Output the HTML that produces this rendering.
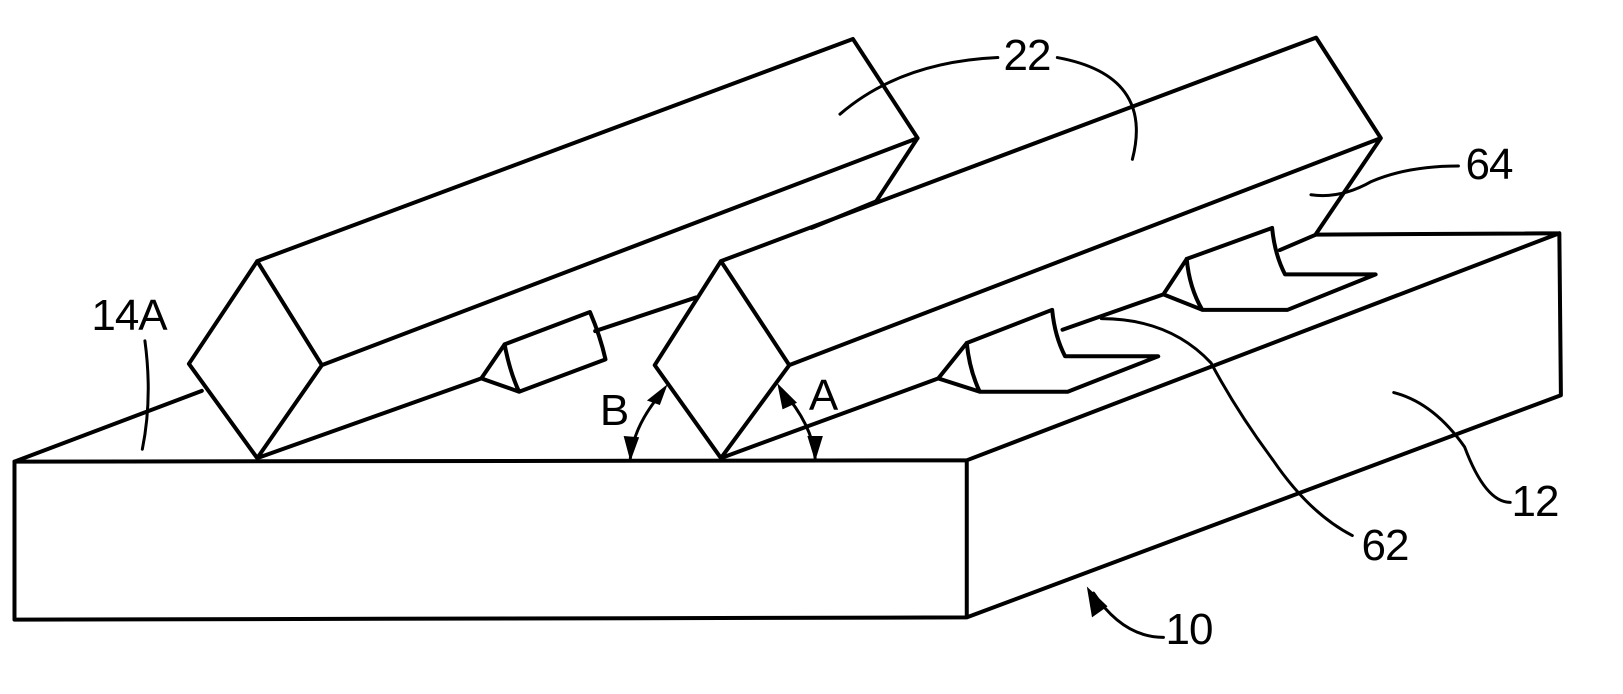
<!DOCTYPE html>
<html><head><style>
html,body{margin:0;padding:0;background:#fff;}
#w{position:relative;width:1623px;height:694px;overflow:hidden;background:#fff;}
svg{position:absolute;left:0;top:0;}
.l{position:absolute;font-family:"Liberation Sans",sans-serif;font-size:44px;color:#000;transform:translate(-50%,-50%);letter-spacing:-1px;line-height:1;white-space:nowrap;}
</style></head><body><div id="w">
<svg width="1623" height="694" viewBox="0 0 3136 1568" preserveAspectRatio="none">
<g fill="none" stroke="#000" stroke-width="4" stroke-linejoin="round" stroke-linecap="round">
<path vector-effect="non-scaling-stroke" d="M28,1043 L28,1400 L1868,1395 L3016,893 L3013,527 L2543,530 M28,1043 L1868,1040 L1868,1395 M1868,1040 L3013,527"/>
<path vector-effect="non-scaling-stroke" d="M28,1043 L390,883"/>
<path vector-effect="non-scaling-stroke" d="M497,590 L365,822 L497,1035 L622,825 Z M497,590 L1648,88 L1773,312 L1693,455 M622,825 L1773,312 M497,1035 L930,855"/>
<path vector-effect="non-scaling-stroke" d="M930,855 L975,778 M930,855 L1003,885 M975,778 Q985,840 1003,885 L1170,812 Q1160,760 1140,705 L975,778 M1150,748 L1345,672"/>
<path vector-effect="non-scaling-stroke" d="M1393,590 L1265,825 L1393,1035 L1525,825 Z M1393,590 L2543,85 L2668,312 L2543,528 M1525,825 L2668,312 M1393,1035 L1813,855 M1568,515 L1693,455"/>
<path vector-effect="non-scaling-stroke" d="M1813,855 L1868,775 M1813,855 L1893,885 M1868,775 Q1873,835 1893,885 L2063,885 L2238,805 L2058,805 Q2038,760 2033,700 L1868,775 M2053,745 L2248,665"/>
<path vector-effect="non-scaling-stroke" d="M2248,665 L2293,585 M2248,665 L2323,700 M2293,585 Q2298,650 2323,700 L2488,700 L2658,620 L2483,620 Q2463,575 2458,515 L2293,585 M2473,565 L2543,530"/>
<g stroke-width="3">
<path vector-effect="non-scaling-stroke" d="M280,770 Q295,900 275,1015"/>
<path vector-effect="non-scaling-stroke" d="M1928,130 Q1740,140 1623,258"/>
<path vector-effect="non-scaling-stroke" d="M2043,130 Q2230,170 2188,360"/>
<path vector-effect="non-scaling-stroke" d="M2818,375 Q2720,375 2650,410 Q2590,450 2533,440"/>
<path vector-effect="non-scaling-stroke" d="M2613,1210 Q2530,1160 2460,1040 Q2390,930 2340,820 Q2260,720 2128,720"/>
<path vector-effect="non-scaling-stroke" d="M2918,1135 Q2870,1135 2830,1010 Q2770,910 2693,887"/>
<path vector-effect="non-scaling-stroke" d="M2248,1440 Q2170,1440 2113,1340"/>
<path vector-effect="non-scaling-stroke" d="M1280,885 Q1225,960 1218,1035"/>
<path vector-effect="non-scaling-stroke" d="M1510,880 Q1570,960 1575,1035"/>
</g>
</g>
<g fill="#000" stroke="none">
<polygon points="1290,868 1250,905 1275,915"/>
<polygon points="1218,1042 1205,985 1235,988"/>
<polygon points="1502,866 1512,925 1540,910"/>
<polygon points="1575,1042 1560,985 1590,985"/>
<polygon points="2100,1325 2110,1395 2140,1370"/>
</g>
</svg>
<div class="l" style="left:129px;top:316px">14A</div>
<div class="l" style="left:614px;top:411px">B</div>
<div class="l" style="left:823px;top:396px">A</div>
<div class="l" style="left:1027px;top:56px">22</div>
<div class="l" style="left:1489px;top:165px">64</div>
<div class="l" style="left:1385px;top:546px">62</div>
<div class="l" style="left:1535px;top:502px">12</div>
<div class="l" style="left:1189px;top:630px">10</div>
</div></body></html>
